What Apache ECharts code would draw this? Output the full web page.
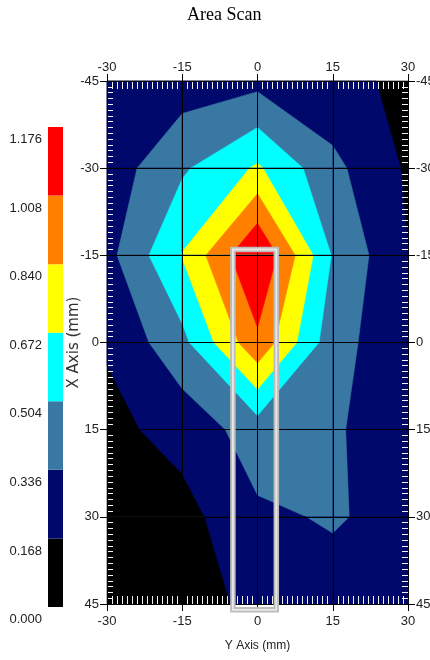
<!DOCTYPE html>
<html><head><meta charset="utf-8">
<script src="https://cdn.jsdelivr.net/npm/echarts@6/dist/echarts.min.js"></script>
<style>html,body{margin:0;padding:0;background:#fff}#c{width:430px;height:660px}</style>
</head><body><div id="c"></div>
<script>
// ---------- data ----------
const chartTitle = 'Area Scan';
const xAxisName = 'Y Axis (mm)';
const yAxisName = 'X Axis (mm)';
const gridX = [-30, -15, 0, 15, 30];
const gridY = [-45, -30, -15, 0, 15, 30, 45];
// amplitude (mm) read at each scan node; one array per row of gridY, columns follow gridX
const rowM45 = [0.22, 0.25, 0.286, 0.21, 0.137];
const rowM30 = [0.24, 0.48, 0.695, 0.38, 0.145];
const rowM15 = [0.283, 0.68, 1.19, 0.49, 0.17];
const row0   = [0.185, 0.456, 0.97, 0.40, 0.21];
const row15  = [0.12, 0.23, 0.415, 0.36, 0.22];
const row30  = [0.08, 0.108, 0.31, 0.35, 0.286];
const row45  = [0.05, 0.10, 0.206, 0.275, 0.25];
const levels = [0, 0.168, 0.336, 0.504, 0.672, 0.840, 1.008, 1.176];
const levelColors = ['#000000', '#00096b', '#3878a2', '#00ffff', '#ffff00', '#ff7f00', '#ff0000'];
const probeOutline = [-4.9, -16.0, 3.75, 46.0]; // x1, y1, x2, y2

// ---------- build ----------
const rows = [rowM45, rowM30, rowM15, row0, row15, row30, row45];
const cells = [];
for (let j = 0; j < gridY.length - 1; j++)
  for (let i = 0; i < gridX.length - 1; i++)
    cells.push([gridX[i], gridY[j], i, j]);

function clipPoly(pts, vals, L) {
  const out = [];
  for (let a = 0; a < 4; a++) {
    const b = (a + 1) % 4;
    const va = vals[a], vb = vals[b];
    if (va >= L) out.push(pts[a]);
    if ((va >= L) !== (vb >= L)) {
      const t = (L - va) / (vb - va);
      out.push([pts[a][0] + t * (pts[b][0] - pts[a][0]), pts[a][1] + t * (pts[b][1] - pts[a][1])]);
    }
  }
  return out;
}

function renderCell(params, api) {
  const i = api.value(2), j = api.value(3);
  const pts = [[gridX[i], gridY[j]], [gridX[i + 1], gridY[j]], [gridX[i + 1], gridY[j + 1]], [gridX[i], gridY[j + 1]]];
  const vals = [rows[j][i], rows[j][i + 1], rows[j + 1][i + 1], rows[j + 1][i]];
  const children = [];
  for (let k = 0; k < levelColors.length; k++) {
    const poly = k === 0 ? pts : clipPoly(pts, vals, levels[k]);
    if (poly.length < 3) continue;
    children.push({
      type: 'polygon',
      shape: { points: poly.map(p => api.coord(p)) },
      style: { fill: levelColors[k], stroke: levelColors[k], lineWidth: 0.6 }
    });
  }
  return { type: 'group', children };
}

function renderProbe(params, api) {
  const p1 = api.coord([api.value(0), api.value(1)]);
  const p2 = api.coord([api.value(2), api.value(3)]);
  const shape = { x: p1[0], y: p1[1], width: p2[0] - p1[0], height: p2[1] - p1[1] };
  return { type: 'group', children: [
    { type: 'rect', shape, style: { fill: null, stroke: '#bcbcbc', lineWidth: 5.5 } },
    { type: 'rect', shape, style: { fill: null, stroke: '#e8e8e8', lineWidth: 1.8 } }
  ] };
}

const labelFont = "'Liberation Sans', Arial, sans-serif";
const lblStyle = { fontFamily: labelFont, fontSize: 13, color: '#222' };

function mainAxis(extra) {
  return Object.assign({
    gridIndex: 0, type: 'value', z: 7, nameMoveOverlap: false,
    axisLine: { onZero: false, lineStyle: { color: '#000', width: 1 } },
    axisTick: { show: true, length: 7, lineStyle: { color: '#000' } },
    axisLabel: Object.assign({ margin: 9 }, lblStyle),
    splitLine: { show: false }
  }, extra);
}
function fineAxis(extra, len) {
  return Object.assign({
    gridIndex: 0, type: 'value', z: 6, interval: 1,
    axisLine: { show: false, onZero: false },
    axisTick: { show: true, inside: true, length: len, lineStyle: { color: '#f4f4f4', width: 1 } },
    axisLabel: { show: false },
    splitLine: { show: false }
  }, extra);
}
const xr = { min: gridX[0], max: gridX[gridX.length - 1] };
const yr = { min: gridY[0], max: gridY[gridY.length - 1], inverse: true };

const barSeries = levelColors.map((c, k) => ({
  type: 'bar', stack: 'cb', xAxisIndex: 4, yAxisIndex: 4, barWidth: '100%', silent: true,
  data: [levels[k + 1] - levels[k]], itemStyle: { color: c }
}));

const option = {
  animation: false,
  backgroundColor: '#fff',
  title: { text: chartTitle, left: 187, top: 6, padding: 0,
    textStyle: { fontFamily: "'Liberation Serif', 'Times New Roman', serif", fontSize: 18, fontWeight: 'normal', color: '#000' } },
  grid: [
    { left: 107, right: 22, top: 81, bottom: 56, outerBoundsMode: 'none' },
    { left: 48, width: 15, top: 127, height: 480, outerBoundsMode: 'none' }
  ],
  xAxis: [
    mainAxis(Object.assign({ position: 'bottom', interval: 15, name: xAxisName, nameLocation: 'middle', nameGap: 36,
      axisLabel: Object.assign({ margin: 11 }, lblStyle),
      nameTextStyle: { fontFamily: labelFont, fontSize: 12, color: '#222' },
      splitLine: { show: true, lineStyle: { color: '#000', width: 1 } } }, xr)),
    mainAxis(Object.assign({ position: 'top', interval: 15, axisLabel: Object.assign({ margin: 7 }, lblStyle) }, xr)),
    fineAxis(Object.assign({ position: 'bottom' }, xr), 8),
    fineAxis(Object.assign({ position: 'top' }, xr), 8),
    { gridIndex: 1, type: 'category', data: ['c'], show: false }
  ],
  yAxis: [
    mainAxis(Object.assign({ position: 'left', interval: 15, name: yAxisName, nameLocation: 'middle', nameGap: 25,
      axisLabel: Object.assign({ margin: 8 }, lblStyle),
      nameTextStyle: { fontFamily: "'DejaVu Sans', sans-serif", fontSize: 15, color: '#333' },
      splitLine: { show: true, lineStyle: { color: '#000', width: 1 } } }, yr)),
    mainAxis(Object.assign({ position: 'right', interval: 15, axisLabel: Object.assign({ margin: 8 }, lblStyle) }, yr)),
    fineAxis(Object.assign({ position: 'left' }, yr), 6),
    fineAxis(Object.assign({ position: 'right' }, yr), 6),
    { gridIndex: 1, type: 'value', min: levels[0], max: levels[levels.length - 1], interval: levels[1] - levels[0],
      axisLine: { show: false }, axisTick: { show: false }, splitLine: { show: false },
      axisLabel: Object.assign({ margin: 6, verticalAlign: 'top', padding: [5, 0, 0, 0], lineHeight: 15,
        formatter: v => v.toFixed(3) }, lblStyle) }
  ],
  series: [
    { type: 'custom', xAxisIndex: 0, yAxisIndex: 0, z: 1, silent: true, renderItem: renderCell,
      encode: { x: 0, y: 1 }, data: cells },
    { type: 'custom', xAxisIndex: 0, yAxisIndex: 0, z: 10, silent: true, clip: false, renderItem: renderProbe,
      encode: { x: [0, 2], y: [1, 3] }, data: [probeOutline] }
  ].concat(barSeries)
};

const chart = echarts.init(document.getElementById('c'), null, { renderer: 'canvas' });
chart.setOption(option);
</script>
</body></html>
